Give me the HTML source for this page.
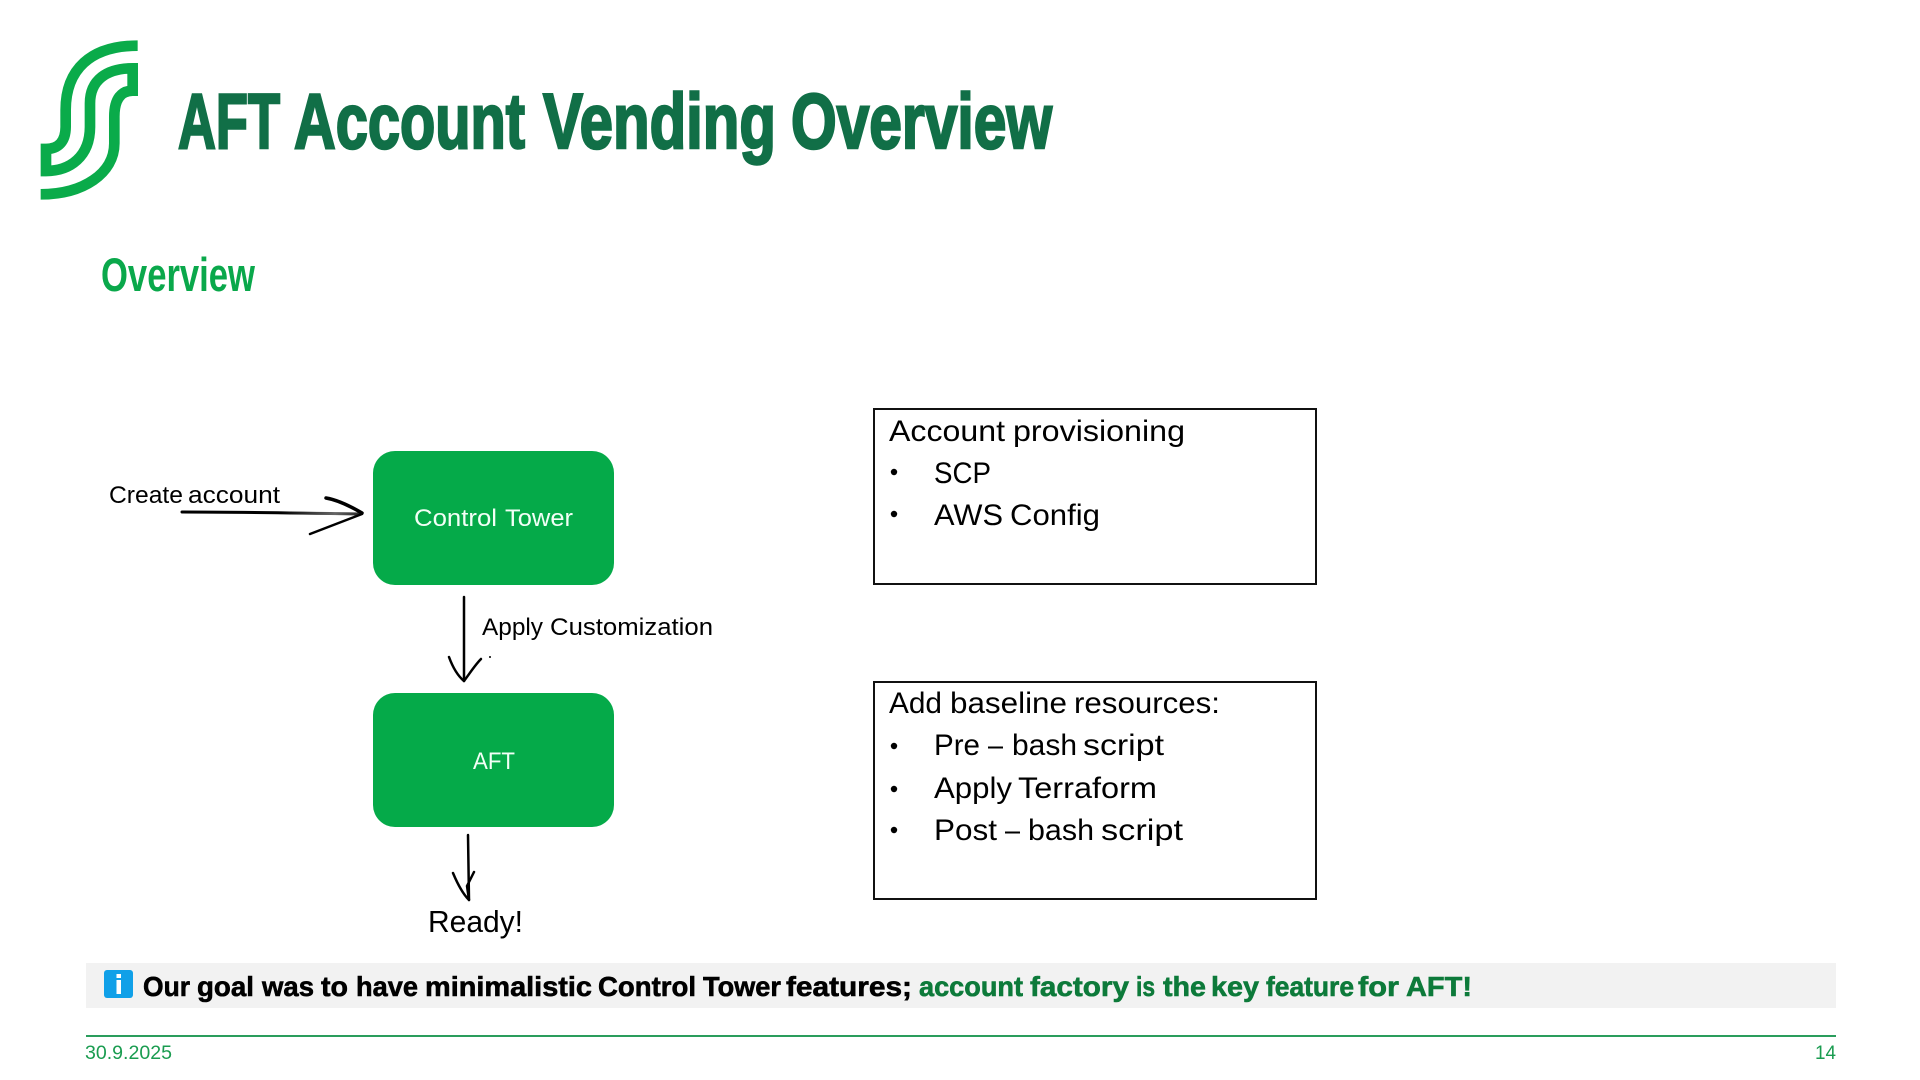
<!DOCTYPE html>
<html lang="en">
<head>
<meta charset="utf-8">
<title>AFT Account Vending Overview</title>
<style>
html,body{margin:0;padding:0;background:#fff;width:1920px;height:1080px;overflow:hidden}
svg{display:block}
text{font-family:"Liberation Sans",sans-serif}
</style>
</head>
<body>
<svg width="1920" height="1080" viewBox="0 0 1920 1080" xmlns="http://www.w3.org/2000/svg">
<defs>
<linearGradient id="fade" gradientUnits="userSpaceOnUse" x1="182" y1="0" x2="362" y2="0">
<stop offset="0" stop-color="#000"/>
<stop offset=".55" stop-color="#000"/>
<stop offset=".85" stop-color="#666"/>
<stop offset="1" stop-color="#222"/>
</linearGradient>
</defs>
<rect width="1920" height="1080" fill="#fff"/>

<!-- Logo -->
<g transform="translate(30,30) scale(0.3333)">
<path d="M323,47 C180,47 107,120 107,240 L107,290 C107,335 85,357 48,357 L48,423 C120,423 180,380 180,290 L180,220 C180,150 230,115 308,115 L308,182 C275,182 253,205 253,260 L253,340 C253,430 160,493 32,493" fill="none" stroke="#0aab4a" stroke-width="32" stroke-linejoin="miter" stroke-miterlimit="6"/>
</g>

<!-- Title -->
<g font-size="78" font-weight="700" fill="#116f47" stroke="#116f47" stroke-width="2.5">
<text x="178" y="148" textLength="102" lengthAdjust="spacingAndGlyphs">AFT</text>
<text x="294" y="148" textLength="231" lengthAdjust="spacingAndGlyphs">Account</text>
<text x="543" y="148" textLength="233" lengthAdjust="spacingAndGlyphs">Vending</text>
<text x="791" y="148" textLength="261" lengthAdjust="spacingAndGlyphs">Overview</text>
</g>
<text x="101" y="291" font-size="47" font-weight="700" fill="#0aa84b" textLength="154" lengthAdjust="spacingAndGlyphs">Overview</text>

<!-- Green boxes -->
<rect x="373" y="451" width="241" height="134" rx="22" fill="#05aa49"/>
<rect x="373" y="693" width="241" height="134" rx="22" fill="#05aa49"/>
<g font-size="24" fill="#f2fff6">
<text x="414" y="526" textLength="83" lengthAdjust="spacingAndGlyphs">Control</text>
<text x="505" y="526" textLength="68" lengthAdjust="spacingAndGlyphs">Tower</text>
<text x="473" y="769" textLength="42" lengthAdjust="spacingAndGlyphs">AFT</text>
</g>

<!-- Hand-drawn arrows -->
<g fill="none" stroke-linecap="round" stroke-linejoin="round">
<path d="M182,512 C240,512 300,513 360,514" stroke="url(#fade)" stroke-width="3"/>
<path d="M326,498 C338,500 350,506 362,513" stroke="#000" stroke-width="3.500"/>
<path d="M362,514 L310,534" stroke="#000" stroke-width="2.500"/>
<path d="M464,597 L464,681" stroke="#000" stroke-width="2.500"/>
<path d="M449,657 C453,668 458,676 464,681 C470,673 475,665 481,659" stroke="#000" stroke-width="2.500"/>
<path d="M468,835 L469,900" stroke="#000" stroke-width="2.500"/>
<path d="M453,873 C458,885 464,895 469,900 L467,886 C470,880 472,876 474,872" stroke="#000" stroke-width="2.500"/>
</g>
<circle cx="490" cy="657" r="1" fill="#000"/>

<!-- Diagram labels -->
<g font-size="24" fill="#000">
<text x="109" y="503" textLength="74" lengthAdjust="spacingAndGlyphs">Create</text>
<text x="188" y="503" textLength="92" lengthAdjust="spacingAndGlyphs">account</text>
<text x="482" y="635" textLength="61" lengthAdjust="spacingAndGlyphs">Apply</text>
<text x="550" y="635" textLength="163" lengthAdjust="spacingAndGlyphs">Customization</text>
</g>
<text x="428" y="932" font-size="31" fill="#000" textLength="95" lengthAdjust="spacingAndGlyphs">Ready!</text>

<!-- Outlined boxes -->
<rect x="874" y="409" width="442" height="175" fill="#fff" stroke="#111" stroke-width="2"/>
<rect x="874" y="682" width="442" height="217" fill="#fff" stroke="#111" stroke-width="2"/>

<g font-size="30" fill="#000">
<text x="889" y="441" textLength="116" lengthAdjust="spacingAndGlyphs">Account</text>
<text x="1013" y="441" textLength="172" lengthAdjust="spacingAndGlyphs">provisioning</text>
<text x="934" y="483" textLength="57" lengthAdjust="spacingAndGlyphs">SCP</text>
<text x="934" y="525" textLength="69" lengthAdjust="spacingAndGlyphs">AWS</text>
<text x="1010" y="525" textLength="90" lengthAdjust="spacingAndGlyphs">Config</text>
<text x="889" y="713" textLength="53" lengthAdjust="spacingAndGlyphs">Add</text>
<text x="950" y="713" textLength="117" lengthAdjust="spacingAndGlyphs">baseline</text>
<text x="1074" y="713" textLength="146" lengthAdjust="spacingAndGlyphs">resources:</text>
<text x="934" y="755" textLength="46" lengthAdjust="spacingAndGlyphs">Pre</text>
<text x="988" y="755" textLength="15" lengthAdjust="spacingAndGlyphs">–</text>
<text x="1012" y="755" textLength="65" lengthAdjust="spacingAndGlyphs">bash</text>
<text x="1083" y="755" textLength="81" lengthAdjust="spacingAndGlyphs">script</text>
<text x="934" y="798" textLength="78" lengthAdjust="spacingAndGlyphs">Apply</text>
<text x="1018" y="798" textLength="139" lengthAdjust="spacingAndGlyphs">Terraform</text>
<text x="934" y="840" textLength="63" lengthAdjust="spacingAndGlyphs">Post</text>
<text x="1005" y="840" textLength="15" lengthAdjust="spacingAndGlyphs">–</text>
<text x="1028" y="840" textLength="66" lengthAdjust="spacingAndGlyphs">bash</text>
<text x="1101" y="840" textLength="82" lengthAdjust="spacingAndGlyphs">script</text>
</g>
<g fill="#000">
<circle cx="894" cy="472" r="3.200"/>
<circle cx="894" cy="514" r="3.200"/>
<circle cx="894" cy="746" r="3.200"/>
<circle cx="894" cy="789" r="3.200"/>
<circle cx="894" cy="830" r="3.200"/>
</g>

<!-- Callout band -->
<rect x="86" y="963" width="1750" height="45" fill="#f2f2f2"/>
<rect x="104" y="970" width="29" height="28" rx="3" fill="#10a0e8"/>
<rect x="116.500" y="974" width="4.500" height="4" fill="#fff"/>
<rect x="116.500" y="980" width="4.500" height="14" fill="#fff"/>
<g font-size="28" font-weight="700" fill="#000" stroke="#000" stroke-width=".6">
<text x="143" y="996" textLength="47" lengthAdjust="spacingAndGlyphs">Our</text>
<text x="197" y="996" textLength="57" lengthAdjust="spacingAndGlyphs">goal</text>
<text x="262" y="996" textLength="52" lengthAdjust="spacingAndGlyphs">was</text>
<text x="321" y="996" textLength="27" lengthAdjust="spacingAndGlyphs">to</text>
<text x="356" y="996" textLength="62" lengthAdjust="spacingAndGlyphs">have</text>
<text x="425" y="996" textLength="167" lengthAdjust="spacingAndGlyphs">minimalistic</text>
<text x="598" y="996" textLength="98" lengthAdjust="spacingAndGlyphs">Control</text>
<text x="703" y="996" textLength="78" lengthAdjust="spacingAndGlyphs">Tower</text>
<text x="786" y="996" textLength="126" lengthAdjust="spacingAndGlyphs">features;</text>
</g>
<g font-size="28" font-weight="700" fill="#0d7a3a" stroke="#0d7a3a" stroke-width=".6">
<text x="919" y="996" textLength="104" lengthAdjust="spacingAndGlyphs">account</text>
<text x="1030" y="996" textLength="99" lengthAdjust="spacingAndGlyphs">factory</text>
<text x="1136" y="996" textLength="19" lengthAdjust="spacingAndGlyphs">is</text>
<text x="1163" y="996" textLength="43" lengthAdjust="spacingAndGlyphs">the</text>
<text x="1211" y="996" textLength="48" lengthAdjust="spacingAndGlyphs">key</text>
<text x="1266" y="996" textLength="88" lengthAdjust="spacingAndGlyphs">feature</text>
<text x="1358" y="996" textLength="41" lengthAdjust="spacingAndGlyphs">for</text>
<text x="1406" y="996" textLength="66" lengthAdjust="spacingAndGlyphs">AFT!</text>
</g>

<!-- Footer -->
<rect x="86" y="1035" width="1750" height="2" fill="#2a9d5c"/>
<text x="85" y="1059" font-size="19" fill="#1a9c50" textLength="87" lengthAdjust="spacingAndGlyphs">30.9.2025</text>
<text x="1815" y="1059" font-size="19" fill="#1a9c50" textLength="21" lengthAdjust="spacingAndGlyphs">14</text>
</svg>
</body>
</html>
